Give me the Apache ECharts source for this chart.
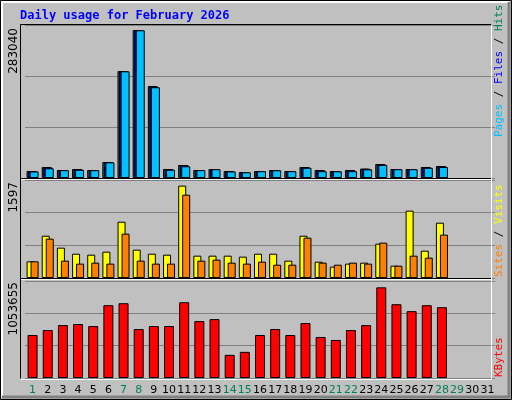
<!DOCTYPE html>
<html lang="en">
<head>
<meta charset="UTF-8">
<title>Daily usage</title>
<script src="https://cdn.jsdelivr.net/npm/echarts@6/dist/echarts.min.js"></script>
<style>html,body{margin:0;padding:0;background:#c0c0c0;}</style>
</head>
<body>
<div id="chart" style="width:512px;height:400px;"></div>
<script>
var days = [];
for (var d = 1; d <= 31; d++) days.push(String(d));
var weekendDays = ['1','7','8','14','15','21','22','28','29'];

var hits  = [13400,21000,15300,17200,15300,30600,204600,283040,176000,17200,24900,15300,17200,13400,11500,13400,15300,13400,21000,15300,13400,15300,18000,26800,17200,17200,21000,22900];
var files = [13000,20500,15000,16800,15000,30200,204000,282500,175000,16800,24500,15000,16800,13000,11200,13000,15000,13000,20500,15000,13000,15000,17600,26400,16800,16800,20500,22500];
var pages = [12500,18500,15000,15700,15000,30000,204000,282500,173500,15700,22400,15000,16800,12500,11000,13000,14800,13000,19500,13000,12800,13000,16500,24900,16800,16800,19500,21000];
var visits = [288,731,524,420,403,455,973,490,420,403,1597,386,386,386,369,420,420,300,731,282,196,248,265,593,213,1164,472,956];
var sites  = [288,680,300,248,265,248,766,300,248,248,1440,300,317,265,248,282,230,230,697,265,230,265,248,611,213,386,351,749];
var kbytes = [499900,557600,615300,626800,603700,846000,869100,569100,603700,603700,880600,661400,684500,269200,303800,499900,569100,499900,638400,476800,442200,557600,615300,1053655,857500,776800,846000,822900];

var maxLabels = ['283040', '1597', '1053655'];
var axisMax = [292600, 1694, 1127500];

var chart = echarts.init(document.getElementById('chart'));

var grids = [
  {left: 25, right: 17, top: 25, height: 153},
  {left: 25, right: 17, top: 180, height: 98},
  {left: 25, right: 17, top: 281, height: 97}
];

function xAxis(i, show) {
  return {
    type: 'category', gridIndex: i, data: days,
    axisLine: {show: false}, axisTick: {show: false},
    axisLabel: {
      show: show, margin: 7, interval: 0,
      fontFamily: 'DejaVu Sans', fontSize: 11,
      color: function (v) { return weekendDays.indexOf(v) >= 0 ? '#00805c' : '#000'; }
    }
  };
}
function yAxis(i) {
  return {
    type: 'value', gridIndex: i, min: 0, max: axisMax[i], interval: axisMax[i] / 3,
    axisLabel: {show: false}, axisLine: {show: false}, axisTick: {show: false},
    splitLine: {lineStyle: {color: '#808080', width: 1}}
  };
}
function bar(name, data, color, xi, width, gap) {
  return {
    name: name, type: 'bar', xAxisIndex: xi, yAxisIndex: xi, data: data,
    barWidth: width, barGap: gap, silent: true, animation: false,
    itemStyle: {color: color, borderColor: '#000', borderWidth: 1}
  };
}
function vText(x, y, align, rich, text) {
  return {
    type: 'text', x: x, y: y, rotation: Math.PI / 2, silent: true,
    style: {text: text, align: align, verticalAlign: 'middle',
      fontFamily: 'DejaVu Sans Mono', fontSize: 11, rich: rich, fill: '#000'}
  };
}
function st(c, size) {
  return {fill: c, color: c, fontFamily: 'DejaVu Sans Mono', fontSize: size || 11};
}
var richLbl = {
  p: st('#00c0ff'), f: st('#0000ff'), h: st('#00805c'),
  s: st('#ff8000'), v: st('#ffff00'), k: st('#ff0000'),
  b: st('#000'), n: {fill: '#000', color: '#000', fontFamily: 'DejaVu Sans', fontSize: 12}
};

var option = {
  backgroundColor: '#c0c0c0',
  animation: false,
  grid: grids,
  xAxis: [xAxis(0, false), xAxis(1, false), xAxis(2, true)],
  yAxis: [yAxis(0), yAxis(1), yAxis(2)],
  series: [
    bar('Hits', hits, '#00805c', 0, 9, '-83%'),
    bar('Files', files, '#0000ff', 0, 9, '-83%'),
    bar('Pages', pages, '#00c0ff', 0, 9, '-83%'),
    bar('Visits', visits, '#ffff00', 1, 8, '-50%'),
    bar('Sites', sites, '#ff8000', 1, 8, '-50%'),
    bar('KBytes', kbytes, '#ff0000', 2, 10, '0%')
  ],
  graphic: [
    {type: 'rect', shape: {x: 0.5, y: 0.5, width: 511, height: 399}, style: {fill: 'none', stroke: '#000'}, z: 100},
    {type: 'polyline', shape: {points: [[2, 397], [2, 2], [509, 2]]}, style: {stroke: '#fff', lineWidth: 2, fill: 'none'}, z: 100},
    {type: 'polyline', shape: {points: [[509, 2], [509, 397], [2, 397]]}, style: {stroke: '#808080', lineWidth: 3, fill: 'none'}, z: 100},
    {type: 'polyline', shape: {points: [[20.5, 378.5], [20.5, 24.5], [491.5, 24.5]]}, style: {stroke: '#000', lineWidth: 1, fill: 'none'}, z: 100},
    {type: 'polyline', shape: {points: [[491.5, 24.5], [491.5, 379.5], [20.5, 379.5]]}, style: {stroke: '#fff', lineWidth: 1, fill: 'none'}, z: 100},
    {type: 'line', shape: {x1: 21, y1: 178.5, x2: 491, y2: 178.5}, style: {stroke: '#000'}, z: 100},
    {type: 'line', shape: {x1: 21, y1: 179.5, x2: 491, y2: 179.5}, style: {stroke: '#fff'}, z: 100},
    {type: 'line', shape: {x1: 21, y1: 278.5, x2: 491, y2: 278.5}, style: {stroke: '#000'}, z: 100},
    {type: 'line', shape: {x1: 21, y1: 279.5, x2: 491, y2: 279.5}, style: {stroke: '#fff'}, z: 100},
    {type: 'text', x: 20, y: 10, silent: true,
      style: {text: 'Daily usage for February 2026', fill: '#0000ff',
        fontFamily: 'DejaVu Sans Mono', fontWeight: 'bold', fontSize: 12}},
    vText(14, 28, 'right', richLbl, '{n|' + maxLabels[0] + '}'),
    vText(14, 182, 'right', richLbl, '{n|' + maxLabels[1] + '}'),
    vText(14, 282, 'right', richLbl, '{n|' + maxLabels[2] + '}'),
    vText(499, 137, 'left', richLbl, '{p|Pages}{b| / }{f|Files}{b| / }{h|Hits}'),
    vText(499, 277, 'left', richLbl, '{s|Sites}{b| / }{v|Visits}'),
    vText(499, 377, 'left', richLbl, '{k|KBytes}')
  ]
};
chart.setOption(option);
</script>
</body>
</html>
